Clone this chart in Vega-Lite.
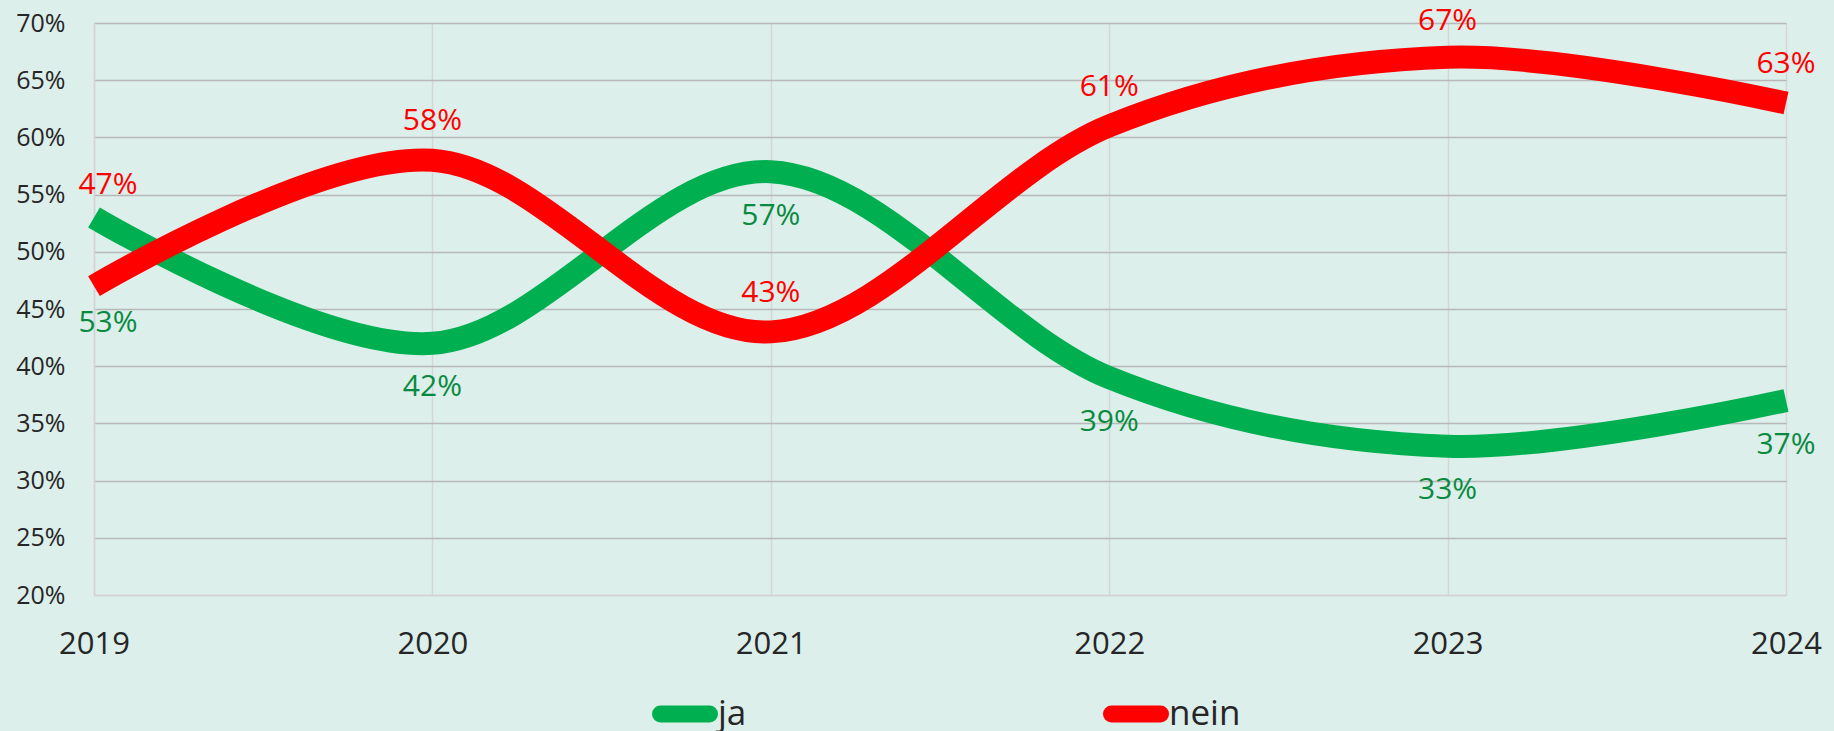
{
  "$schema": "https://vega.github.io/schema/vega-lite/v6.json",
  "width": 1692,
  "height": 572,
  "autosize": {"type": "none"},
  "padding": {"left": 94, "top": 23, "right": 48, "bottom": 136},
  "background": "#dcefeb",
  "config": {"font": "Open Sans", "view": {"stroke": null}},
  "data": {
    "values": [
      {"year": "2019", "antwort": "ja", "wert": 53},
      {"year": "2020", "antwort": "ja", "wert": 42},
      {"year": "2021", "antwort": "ja", "wert": 57},
      {"year": "2022", "antwort": "ja", "wert": 39},
      {"year": "2023", "antwort": "ja", "wert": 33},
      {"year": "2024", "antwort": "ja", "wert": 37},
      {"year": "2019", "antwort": "nein", "wert": 47},
      {"year": "2020", "antwort": "nein", "wert": 58},
      {"year": "2021", "antwort": "nein", "wert": 43},
      {"year": "2022", "antwort": "nein", "wert": 61},
      {"year": "2023", "antwort": "nein", "wert": 67},
      {"year": "2024", "antwort": "nein", "wert": 63}
    ]
  },
  "encoding": {
    "x": {
      "field": "year",
      "type": "ordinal",
      "scale": {"type": "point", "padding": 0},
      "axis": {
        "title": null,
        "labelAngle": 0,
        "ticks": false,
        "grid": true,
        "gridColor": "#d6d6d6",
        "gridWidth": 1.5,
        "domainColor": "#d4d4d4",
        "domainWidth": 1.5,
        "labelFontSize": 31,
        "labelColor": "#262626",
        "labelPadding": 58,
        "labelBaseline": "alphabetic"
      }
    },
    "y": {
      "field": "wert",
      "type": "quantitative",
      "scale": {"domain": [20, 70], "nice": false, "zero": false},
      "axis": {
        "title": null,
        "values": [20, 25, 30, 35, 40, 45, 50, 55, 60, 65, 70],
        "labelExpr": "datum.value + '%'",
        "ticks": false,
        "grid": true,
        "gridColor": {"condition": {"test": "datum.value == 20", "value": "#d4d4d4"}, "value": "#b8b8b8"},
        "gridWidth": 1.5,
        "domainColor": "#d4d4d4",
        "domainWidth": 1.5,
        "labelFontSize": 25,
        "labelColor": "#262626",
        "labelPadding": 29
      }
    }
  },
  "layer": [
    {
      "mark": {"type": "line", "interpolate": "cardinal", "strokeWidth": 23, "strokeCap": "butt", "strokeJoin": "round"},
      "encoding": {
        "color": {
          "field": "antwort",
          "type": "nominal",
          "scale": {"domain": ["ja", "nein"], "range": ["#00b050", "#ff0000"]},
          "legend": {
            "orient": "none",
            "legendX": 558,
            "legendY": 658,
            "direction": "horizontal",
            "title": null,
            "symbolType": "stroke",
            "symbolSize": 2401,
            "symbolStrokeWidth": 17,
            "labelFontSize": 35,
            "labelColor": "#262626",
            "labelOffset": 0,
            "columnPadding": 330,
            "encode": {"symbols": {"update": {"strokeCap": {"value": "round"}}}}
          }
        }
      }
    },
    {
      "mark": {
        "type": "text",
        "fontSize": 30,
        "baseline": "middle",
        "align": "center",
        "text": {"expr": "datum.wert + '%'"},
        "dy": {"expr": "datum.antwort == 'nein' ? (datum.year == '2019' ? -101 : (datum.year == '2023' ? -36 : -39)) : (datum.year == '2019' ? 106 : 44)"},
        "dx": {"expr": "datum.year == '2019' ? 14 : 0"}
      },
      "encoding": {
        "color": {"condition": {"test": "datum.antwort == 'ja'", "value": "#0a8a40"}, "value": "#ff0000"}
      }
    }
  ]
}
